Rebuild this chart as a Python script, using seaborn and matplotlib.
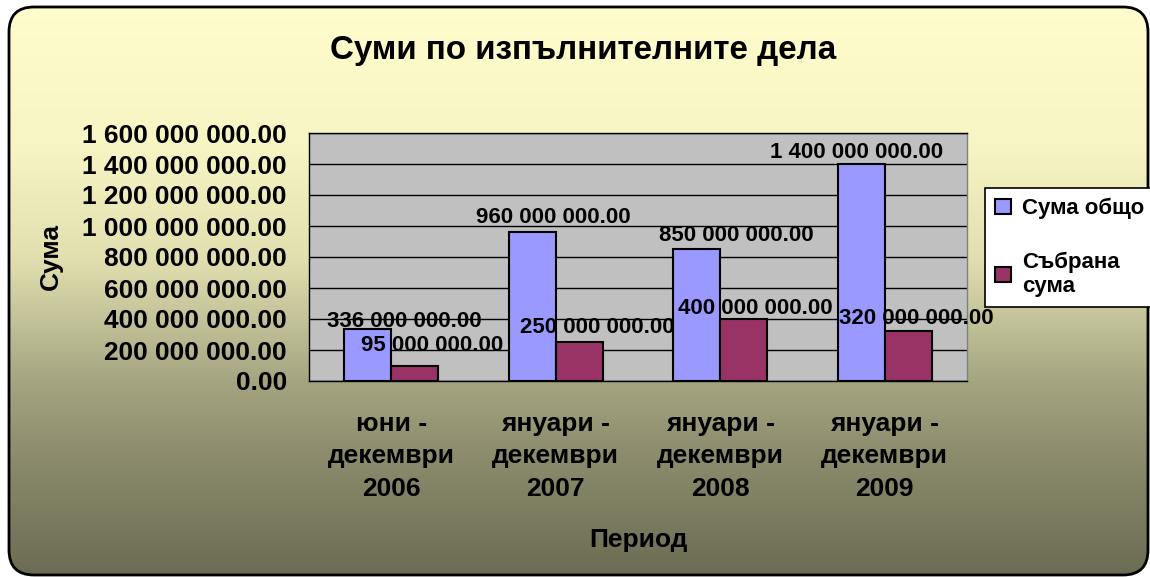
import numpy as np
import pandas as pd
import matplotlib
matplotlib.use("Agg")
import matplotlib.pyplot as plt
import seaborn as sns
from matplotlib.patches import FancyBboxPatch, Patch
from matplotlib.colors import LinearSegmentedColormap
from matplotlib.ticker import FuncFormatter, FixedLocator

# Data
periods = ["юни -\nдекември\n2006", "януари -\nдекември\n2007",
           "януари -\nдекември\n2008", "януари -\nдекември\n2009"]
total_sum = [336_000_000, 960_000_000, 850_000_000, 1_400_000_000]
collected = [95_000_000, 250_000_000, 400_000_000, 320_000_000]
series = ["Сума общо", "Събрана\nсума"]

df = pd.DataFrame({
    "Период": periods * 2,
    "Сума": total_sum + collected,
    "Серия": [series[0]] * 4 + [series[1]] * 4,
})

# label nudges (pixels) as placed in the original, per series
nudge_total = [(37, 7), (21, 15), (40, 14), (-5, 11)]
nudge_coll = [(17, 21), (18, 15), (12, 11), (8, 13)]

colors = ["#9999FF", "#993366"]

sns.set_style("white")
plt.rcParams["font.family"] = ["Liberation Sans", "DejaVu Sans"]
plt.rcParams["font.weight"] = "bold"
for k in ["text.color", "axes.labelcolor", "xtick.color", "ytick.color"]:
    plt.rcParams[k] = "black"

W, H = 1150, 577
fig = plt.figure(figsize=(W / 100, H / 100), dpi=100)
fig.patch.set_facecolor("white")

# gradient background inside a rounded frame
bg = fig.add_axes([0, 0, 1, 1], zorder=-5)
bg.set_xlim(0, W)
bg.set_ylim(H, 0)
bg.axis("off")
stops = [(0.0, (255, 253, 205)), (0.25, (247, 245, 195)), (0.45, (225, 223, 175)),
         (0.66, (165, 165, 130)), (0.82, (135, 135, 105)), (1.0, (108, 108, 84))]
cmap = LinearSegmentedColormap.from_list(
    "bg", [(p, tuple(c / 255 for c in rgb)) for p, rgb in stops])
grad = np.linspace(0, 1, 400).reshape(-1, 1)
im = bg.imshow(grad, cmap=cmap, aspect="auto", extent=[0, W, H, 0])
frame = FancyBboxPatch((9, 7), 1139, 568, boxstyle="round,pad=0,rounding_size=25",
                       facecolor="none", edgecolor="black", linewidth=2)
bg.add_patch(frame)
im.set_clip_path(frame)

ax = fig.add_axes([309 / W, 1 - 381 / H, (967 - 309) / W, (381 - 133) / H])
ax.set_facecolor("#C0C0C0")

sns.barplot(data=df, x="Период", y="Сума", hue="Серия", palette=colors,
            saturation=1, width=0.571, edgecolor="black", linewidth=1.5, ax=ax,
            zorder=3, legend=False)

ax.set_xlim(-0.5, len(periods) - 0.5)
ax.set_ylim(0, 1_600_000_000)
ax.yaxis.set_major_locator(FixedLocator(np.arange(0, 1_600_000_001, 200_000_000)))
ax.yaxis.set_major_formatter(FuncFormatter(lambda v, p: f"{v:,.2f}".replace(",", " ")))
ax.grid(axis="y", color="black", linewidth=1, zorder=0)
ax.set_axisbelow(True)

ax.tick_params(axis="y", which="major", direction="out", length=6, width=1,
               color="black", pad=10, labelsize=18.9)
ax.tick_params(axis="x", which="major", length=0, pad=22, labelsize=19)
ax.xaxis.set_minor_locator(FixedLocator(np.arange(-0.5, len(periods), 1)))
ax.tick_params(axis="x", which="minor", direction="out", length=6, width=1, color="black")
for lab in ax.get_xticklabels() + ax.get_yticklabels():
    lab.set_fontweight("bold")
for lab in ax.get_xticklabels():
    lab.set_linespacing(1.45)

for s in ["left", "bottom", "top"]:
    ax.spines[s].set_color("black")
    ax.spines[s].set_linewidth(1)
ax.spines["right"].set_color("#808080")
ax.spines["right"].set_linewidth(1)

# data labels
for cont, nudges in zip(ax.containers, [nudge_total, nudge_coll]):
    for bar, (dx, dy) in zip(cont, nudges):
        h = bar.get_height()
        ax.annotate(f"{h:,.2f}".replace(",", " "),
                    xy=(bar.get_x() + bar.get_width() / 2, h),
                    xytext=(dx, dy), textcoords="offset pixels",
                    ha="center", va="center", fontsize=16, fontweight="bold",
                    zorder=5, annotation_clip=False)

ax.set_xlabel("Период", fontsize=19, fontweight="bold", va="center")
ax.xaxis.set_label_coords(0.5, -(540 - 381) / 248)
ax.set_ylabel("Сума", fontsize=19, fontweight="bold", va="center")
ax.yaxis.set_label_coords(-(309 - 51) / 658, 0.5)

fig.text(583 / W, 1 - 50 / H, "Суми по изпълнителните дела", ha="center", va="center",
         fontsize=23.9, fontweight="bold")

handles = [Patch(facecolor=c, edgecolor="black", linewidth=1.5) for c in colors]
leg = fig.legend(handles, series, loc="upper left", bbox_to_anchor=(985 / W, 1 - 188 / H),
                 frameon=True, fancybox=False, framealpha=1, edgecolor="black",
                 fontsize=16, handlelength=0.7, handleheight=0.7, labelspacing=1.45,
                 handletextpad=0.5, borderpad=0.45, borderaxespad=0)
leg.get_frame().set_linewidth(1.2)
for t in leg.get_texts():
    t.set_fontweight("bold")

fig.savefig("out.png", dpi=100)
